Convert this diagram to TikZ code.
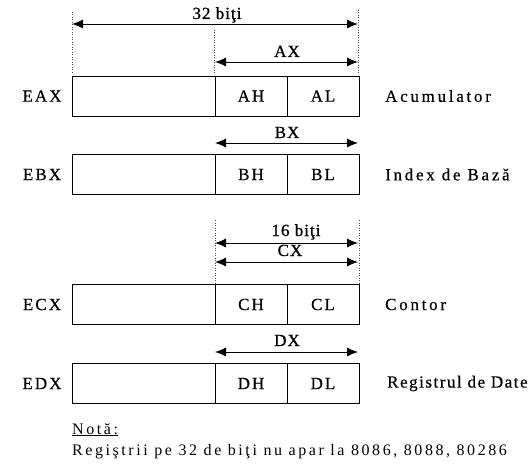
\documentclass[tikz,border=0pt]{standalone}
\usepackage{fontspec}
\setmainfont{Liberation Serif}
\newfontfamily\lblfont{Liberation Serif}[LetterSpace=12,FakeBold=0.5]
\newfontfamily\descfont{Liberation Serif}[LetterSpace=16,FakeBold=0.5]
\newfontfamily\regfont{Liberation Serif}[LetterSpace=9,FakeBold=0.5]
\newfontfamily\dimfont{Liberation Serif}[LetterSpace=6,FakeBold=0.8]
\newfontfamily\notefont{Liberation Serif}[LetterSpace=16]
\usetikzlibrary{arrows.meta}
\begin{document}
\begin{tikzpicture}[x=1pt,y=-1pt,
  cell/.style={draw,line width=0.9pt,minimum height=40pt,inner sep=0pt,font=\lblfont\fontsize{17}{19}\selectfont},
  reglabel/.style={font=\lblfont\fontsize{17}{19}\selectfont,inner sep=0pt},
  desclabel/.style={font=\descfont\fontsize{17}{19}\selectfont,inner sep=0pt,anchor=west},
  dimarrow/.style={line width=0.9pt,{Latex[length=11pt,width=9pt]}-{Latex[length=11pt,width=9pt]}},
  dimtext/.style={font=\dimfont\fontsize{17}{19}\selectfont,inner sep=0pt,anchor=base},
  dotline/.style={line width=0.5pt,dotted,black!70},
  notetext/.style={font=\notefont\fontsize{16}{18}\selectfont,inner sep=0pt,anchor=base west}]
\useasboundingbox (0,0) rectangle (530,476);
% rows
\foreach \r/\y/\full/\desc in {A/96/EAX/Acumulator,B/174.5/EBX/Index de Bază,C/304.5/ECX/Contor}{
  \node[cell,minimum width=143pt] (\r0) at (143.5,\y) {};
  \node[cell,minimum width=72pt] (\r1) at (251,\y) {\r H};
  \node[cell,minimum width=72pt] (\r2) at (323,\y) {\r L};
  \node[reglabel] (\r lab) at (42,\y) {\full};
  \node[desclabel] (\r desc) at (385,\y) {\desc};
}
\node[cell,minimum width=143pt] (D0) at (143.5,383.5) {};
\node[cell,minimum width=72pt] (D1) at (251,383.5) {DH};
\node[cell,minimum width=72pt] (D2) at (323,383.5) {DL};
\node[reglabel] (Dlab) at (42,383.5) {EDX};
\node[desclabel,font=\regfont\fontsize{17}{19}\selectfont] (Ddesc) at (387,383.5) {Registrul de Date};
% 32 bits
\coordinate (t32l) at (72,24); \coordinate (t32r) at (358,24);
\draw[dimarrow] (t32l) -- (t32r);
\node[dimtext] (t32) at (217,19) {32 biţi};
\coordinate (d1a) at (72,12); \coordinate (d1b) at (72,74);
\coordinate (d2a) at (358,10); \coordinate (d2b) at (358,74);
\coordinate (d3a) at (214,30); \coordinate (d3b) at (214,74);
\draw[dotline] (d1a) -- (d1b);
\draw[dotline] (d2a) -- (d2b);
\draw[dotline] (d3a) -- (d3b);
% AX
\coordinate (axl) at (215,62); \coordinate (axr) at (358,62);
\draw[dimarrow] (axl) -- (axr);
\node[dimtext] (axt) at (287,57) {AX};
% BX
\coordinate (bxl) at (215,143); \coordinate (bxr) at (358,143);
\draw[dimarrow] (bxl) -- (bxr);
\node[dimtext] (bxt) at (287,138) {BX};
% 16 bits
\coordinate (t16l) at (215,243); \coordinate (t16r) at (358,243);
\draw[dimarrow] (t16l) -- (t16r);
\node[dimtext] (t16) at (296,236) {16 biţi};
\coordinate (cxl) at (215,262); \coordinate (cxr) at (358,262);
\draw[dimarrow] (cxl) -- (cxr);
\node[dimtext] (cxt) at (290,256) {CX};
\coordinate (d4a) at (215,220); \coordinate (d4b) at (215,284);
\coordinate (d5a) at (359,220); \coordinate (d5b) at (359,284);
\draw[dotline] (d4a) -- (d4b);
\draw[dotline] (d5a) -- (d5b);
% DX
\coordinate (dxl) at (215,352); \coordinate (dxr) at (358,352);
\draw[dimarrow] (dxl) -- (dxr);
\node[dimtext] (dxt) at (287,346) {DX};
% note
\node[notetext] (nota) at (72,434) {\underline{Notă:}};
\node[notetext] (notetext) at (72,455) {Regiştrii pe 32 de biţi nu apar la 8086, 8088, 80286};
\end{tikzpicture}
\end{document}
